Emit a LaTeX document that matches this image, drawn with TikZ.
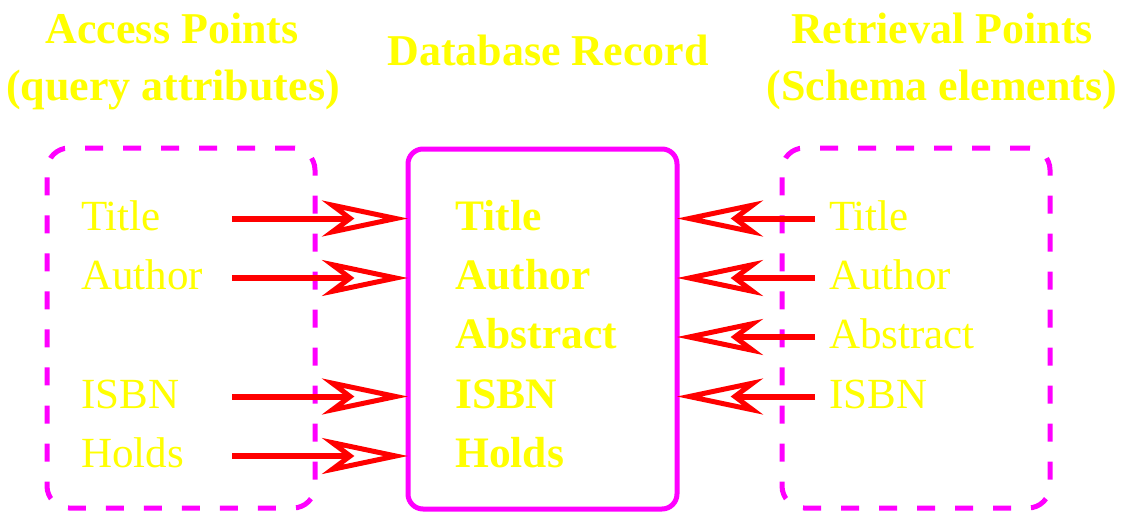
\documentclass[tikz,border=0pt]{standalone}
\usepackage{fontspec}
\setmainfont{Liberation Serif}
\usetikzlibrary{arrows.meta}
\definecolor{myyellow}{RGB}{255,255,0}
\definecolor{mymagenta}{RGB}{255,0,255}
\definecolor{myred}{RGB}{255,0,0}
\tikzset{
  hdr/.style={text=myyellow, font=\fontsize{44}{50}\selectfont\bfseries, anchor=base, inner sep=0pt},
  plain/.style={text=myyellow, font=\fontsize{43}{50}\selectfont, anchor=base west, inner sep=0pt},
  boldtxt/.style={text=myyellow, font=\fontsize{43.5}{50}\selectfont\bfseries, anchor=base west, inner sep=0pt},
  dashbox/.style={draw=mymagenta, line width=5pt, dash pattern=on 18pt off 20pt, rounded corners=22pt, minimum width=268pt, minimum height=360pt, outer sep=0pt},
  recbox/.style={draw=mymagenta, line width=5pt, rounded corners=15pt, minimum width=269pt, minimum height=360pt, outer sep=0pt},
  link/.style={draw=myred, line width=6pt, -{Stealth[open, length=86pt, width=36pt, inset=24pt, line width=5pt]}},
}
\begin{document}
\begin{tikzpicture}[x=1pt,y=-1pt]
\useasboundingbox (0,0) rectangle (1131,514);
% headers
\node[hdr] (h1) at (172,43) {Access Points};
\node[hdr] (h2) at (173,100) {(query attributes)};
\node[hdr] (h3) at (548,65) {Database Record};
\node[hdr] (h4) at (942,43) {Retrieval Points};
\node[hdr] (h5) at (942,100) {(Schema elements)};
% boxes
\node[dashbox] (acc) at (181,328) {};
\node[recbox] (rec) at (542.5,329) {};
\node[dashbox] (ret) at (916,328) {};
% left texts
\node[plain] (lt) at (81,230) {Title};
\node[plain] (la) at (81,289) {Author};
\node[plain] (li) at (81,408) {ISBN};
\node[plain] (lh) at (81,467) {Holds};
% middle texts
\node[boldtxt] (mt) at (455,230) {Title};
\node[boldtxt] (ma) at (455,289) {Author};
\node[boldtxt] (mb) at (455,348) {Abstract};
\node[boldtxt] (mi) at (455,408) {ISBN};
\node[boldtxt] (mh) at (455,467) {Holds};
% right texts
\node[plain] (rt) at (829,230) {Title};
\node[plain] (ra) at (829,289) {Author};
\node[plain] (rb) at (829,348) {Abstract};
\node[plain] (ri) at (829,408) {ISBN};
% arrow start points
\coordinate (s1) at (232,218.5);
\coordinate (s2) at (232,278);
\coordinate (s4) at (232,396.5);
\coordinate (s5) at (232,456);
\coordinate (r1) at (815,218.5);
\coordinate (r2) at (815,278);
\coordinate (r3) at (815,337);
\coordinate (r4) at (815,396.5);
% arrows
\draw[link] (s1) -- (rec.west |- s1);
\draw[link] (s2) -- (rec.west |- s2);
\draw[link] (s4) -- (rec.west |- s4);
\draw[link] (s5) -- (rec.west |- s5);
\draw[link] (r1) -- (rec.east |- r1);
\draw[link] (r2) -- (rec.east |- r2);
\draw[link] (r3) -- (rec.east |- r3);
\draw[link] (r4) -- (rec.east |- r4);
\end{tikzpicture}
\end{document}
